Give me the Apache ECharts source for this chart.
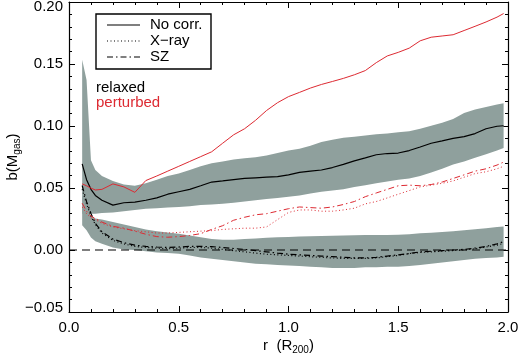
<!DOCTYPE html>
<html>
<head>
<meta charset="utf-8">
<script src="https://cdn.jsdelivr.net/npm/echarts@6/dist/echarts.min.js"></script>
<style>
  html, body { margin: 0; padding: 0; background: #fff; }
  #chart { width: 520px; height: 353px; }
</style>
</head>
<body>
<div id="chart"></div>
<script>
// r in units of R200
const radius = [0.06, 0.08, 0.10, 0.12, 0.15, 0.20, 0.25, 0.30, 0.35, 0.40,
  0.45, 0.50, 0.55, 0.60, 0.65, 0.70, 0.75, 0.80, 0.85, 0.90,
  0.95, 1.00, 1.05, 1.10, 1.15, 1.20, 1.25, 1.30, 1.35, 1.40,
  1.45, 1.50, 1.55, 1.60, 1.65, 1.70, 1.75, 1.80, 1.85, 1.90,
  1.95, 1.98];

// relaxed clusters
const relaxedNoCorr = [0.0694, 0.0567, 0.0489, 0.0440, 0.0401, 0.0362, 0.0381, 0.0386, 0.0401, 0.0420,
  0.0450, 0.0470, 0.0489, 0.0518, 0.0548, 0.0557, 0.0567, 0.0577, 0.0582, 0.0587,
  0.0592, 0.0606, 0.0626, 0.0636, 0.0645, 0.0665, 0.0690, 0.0719, 0.0743, 0.0768,
  0.0778, 0.0782, 0.0802, 0.0831, 0.0861, 0.0880, 0.0900, 0.0914, 0.0939, 0.0978,
  0.0998, 0.1002];
const relaxedXray = [0.0490, 0.0372, 0.0274, 0.0205, 0.0137, 0.0078, 0.0049, 0.0029, 0.0020, 0.0015,
  0.0010, 0.0015, 0.0020, 0.0020, 0.0015, 0.0005, -0.0005, -0.0015, -0.0025, -0.0034,
  -0.0039, -0.0044, -0.0049, -0.0054, -0.0059, -0.0064, -0.0068, -0.0068, -0.0068, -0.0064,
  -0.0054, -0.0044, -0.0029, -0.0020, -0.0015, -0.0010, -0.0005, 0.0000, 0.0010, 0.0024,
  0.0039, 0.0054];
const relaxedSZ = [0.0520, 0.0390, 0.0295, 0.0215, 0.0147, 0.0088, 0.0059, 0.0039, 0.0029, 0.0024,
  0.0020, 0.0024, 0.0029, 0.0029, 0.0027, 0.0020, 0.0012, 0.0005, -0.0005, -0.0015,
  -0.0025, -0.0034, -0.0039, -0.0044, -0.0049, -0.0054, -0.0059, -0.0064, -0.0064, -0.0059,
  -0.0049, -0.0039, -0.0029, -0.0015, -0.0010, -0.0005, 0.0000, 0.0005, 0.0015, 0.0029,
  0.0049, 0.0068];

// scatter bands of the relaxed sample
const noCorrBandTop = [0.1535, 0.1370, 0.0724, 0.0645, 0.0597, 0.0557, 0.0528, 0.0518, 0.0538, 0.0567,
  0.0597, 0.0616, 0.0645, 0.0675, 0.0699, 0.0714, 0.0729, 0.0739, 0.0748, 0.0763,
  0.0782, 0.0802, 0.0817, 0.0841, 0.0870, 0.0890, 0.0905, 0.0914, 0.0924, 0.0934,
  0.0939, 0.0949, 0.0958, 0.0978, 0.1002, 0.1027, 0.1056, 0.1105, 0.1134, 0.1154,
  0.1174, 0.1183];
const noCorrBandBottom = [0.0293, 0.0293, 0.0293, 0.0293, 0.0298, 0.0303, 0.0313, 0.0323, 0.0333, 0.0337,
  0.0342, 0.0347, 0.0352, 0.0362, 0.0367, 0.0372, 0.0381, 0.0391, 0.0401, 0.0411,
  0.0420, 0.0430, 0.0440, 0.0455, 0.0469, 0.0479, 0.0489, 0.0509, 0.0523, 0.0538,
  0.0553, 0.0567, 0.0577, 0.0597, 0.0626, 0.0655, 0.0690, 0.0714, 0.0743, 0.0773,
  0.0802, 0.0822];
const corrBandTop = [0.0440, 0.0342, 0.0274, 0.0254, 0.0245, 0.0225, 0.0205, 0.0186, 0.0166, 0.0152,
  0.0142, 0.0132, 0.0117, 0.0103, 0.0088, 0.0083, 0.0083, 0.0088, 0.0093, 0.0098,
  0.0102, 0.0105, 0.0108, 0.0110, 0.0112, 0.0115, 0.0117, 0.0118, 0.0120, 0.0120,
  0.0120, 0.0122, 0.0127, 0.0135, 0.0140, 0.0145, 0.0152, 0.0160, 0.0168, 0.0176,
  0.0185, 0.0190];
const corrBandBottom = [0.0200, 0.0160, 0.0100, 0.0070, 0.0050, 0.0020, 0.0005, 0.0000, -0.0010, -0.0020,
  -0.0025, -0.0030, -0.0045, -0.0060, -0.0070, -0.0080, -0.0090, -0.0100, -0.0110, -0.0115,
  -0.0120, -0.0125, -0.0130, -0.0135, -0.0140, -0.0145, -0.0145, -0.0145, -0.0140, -0.0140,
  -0.0135, -0.0135, -0.0130, -0.0120, -0.0110, -0.0100, -0.0090, -0.0080, -0.0070, -0.0065,
  -0.0060, -0.0055];

// perturbed clusters
const perturbedNoCorr = [0.0533, 0.0518, 0.0499, 0.0484, 0.0489, 0.0533, 0.0509, 0.0465, 0.0560, 0.0597,
  0.0636, 0.0675, 0.0714, 0.0753, 0.0792, 0.0861, 0.0929, 0.0978, 0.1046, 0.1125,
  0.1188, 0.1237, 0.1271, 0.1306, 0.1335, 0.1359, 0.1384, 0.1413, 0.1447, 0.1511,
  0.1565, 0.1594, 0.1628, 0.1687, 0.1716, 0.1726, 0.1736, 0.1770, 0.1804, 0.1839,
  0.1878, 0.1907];
const perturbedXray = [0.0347, 0.0293, 0.0259, 0.0245, 0.0215, 0.0186, 0.0171, 0.0156, 0.0147, 0.0137,
  0.0137, 0.0142, 0.0147, 0.0152, 0.0156, 0.0166, 0.0171, 0.0176, 0.0176, 0.0186,
  0.0245, 0.0303, 0.0323, 0.0323, 0.0313, 0.0313, 0.0323, 0.0337, 0.0372, 0.0391,
  0.0420, 0.0450, 0.0479, 0.0509, 0.0523, 0.0538, 0.0557, 0.0587, 0.0616, 0.0631,
  0.0655, 0.0675];
const perturbedSZ = [0.0377, 0.0313, 0.0274, 0.0254, 0.0225, 0.0191, 0.0176, 0.0152, 0.0127, 0.0108,
  0.0103, 0.0108, 0.0117, 0.0132, 0.0166, 0.0196, 0.0240, 0.0264, 0.0284, 0.0293,
  0.0313, 0.0333, 0.0347, 0.0342, 0.0337, 0.0347, 0.0367, 0.0391, 0.0430, 0.0460,
  0.0489, 0.0518, 0.0523, 0.0518, 0.0528, 0.0548, 0.0577, 0.0606, 0.0636, 0.0655,
  0.0685, 0.0709];

const zeroLineR = [0, 2];
const zeroLineB = [0, 0];

const FONT = 'Liberation Sans, Arial, Helvetica, sans-serif';
const BAND = '#8fa09d';
const RED = '#dd2a32';
const SOLID = 'solid';
const DOTTED = [1, 2.5];
const DASHDOT = [6, 3, 1.5, 3];

function lineSeries(name, values, color, type, width) {
  return {
    name: name,
    type: 'line',
    data: radius.map((r, i) => [r, values[i]]),
    symbol: 'none',
    silent: true,
    z: 3,
    lineStyle: { color: color, width: width, type: type }
  };
}

function bandSeries(name, lo, hi) {
  return {
    name: name,
    type: 'custom',
    silent: true,
    z: 1,
    data: radius.map((r, i) => [r, lo[i], hi[i]]),
    encode: { x: 0, y: [1, 2] },
    renderItem: function (params, api) {
      if (params.dataIndex !== 0) return null;
      const upper = radius.map((r, i) => api.coord([r, hi[i]]));
      const lower = radius.map((r, i) => api.coord([r, lo[i]])).reverse();
      return {
        type: 'polygon',
        shape: { points: upper.concat(lower) },
        style: { fill: BAND }
      };
    }
  };
}

function frameAxis(extra) {
  return Object.assign({
    type: 'value',
    axisLine: { show: true, onZero: false, lineStyle: { color: '#000', width: 1.2 } },
    axisTick: { show: true, inside: true, length: 6, lineStyle: { color: '#000', width: 1 } },
    minorTick: { show: true, splitNumber: 5, length: 3, lineStyle: { color: '#000', width: 1 } },
    splitLine: { show: false },
    minorSplitLine: { show: false }
  }, extra);
}

const chart = echarts.init(document.getElementById('chart'), null, { renderer: 'canvas' });

chart.setOption({
  animation: false,
  backgroundColor: '#fff',
  grid: { left: 69, right: 12, top: 2, bottom: 41, containLabel: false, outerBoundsMode: 'none' },
  xAxis: [
    frameAxis({
      min: 0, max: 2, interval: 0.5, position: 'bottom',
      axisLabel: { color: '#000', fontSize: 15, fontFamily: FONT, margin: 8,
        formatter: v => v.toFixed(1) },
      name: 'r  (R{sub|200})',
      nameLocation: 'middle',
      nameGap: 25,
      nameMoveOverlap: false,
      nameTextStyle: { color: '#000', fontSize: 15, fontFamily: FONT,
        rich: { sub: { fontSize: 10, fontFamily: FONT, color: '#000', padding: [8, 0, 0, 0] } } }
    }),
    frameAxis({
      min: 0, max: 2, interval: 0.5, position: 'top',
      axisLabel: { show: false }
    })
  ],
  yAxis: [
    frameAxis({
      min: -0.05, max: 0.2, interval: 0.05, position: 'left',
      axisLabel: {
        color: '#000', fontSize: 15, fontFamily: FONT, margin: 6,
        formatter: function (v) {
          const s = v.toFixed(2).replace('-', '\u2212');
          if (v > 0.199) return '{top|' + s + '}';
          if (v < -0.049) return '{bot|' + s + '}';
          return s;
        },
        rich: {
          top: { fontSize: 15, fontFamily: FONT, color: '#000', padding: [10, 0, 0, 0] },
          bot: { fontSize: 15, fontFamily: FONT, color: '#000', padding: [0, 0, 9, 0] }
        }
      },
      name: 'b(M{sub|gas})',
      nameLocation: 'middle',
      nameRotate: 90,
      nameGap: 47,
      nameMoveOverlap: false,
      nameTextStyle: { color: '#000', fontSize: 15, fontFamily: FONT,
        rich: { sub: { fontSize: 10, fontFamily: FONT, color: '#000', padding: [8, 0, 0, 0] } } }
    }),
    frameAxis({
      min: -0.05, max: 0.2, interval: 0.05, position: 'right',
      axisLabel: { show: false }
    })
  ],
  series: [
    bandSeries('relaxed no corr. scatter', noCorrBandBottom, noCorrBandTop),
    bandSeries('relaxed corrected scatter', corrBandBottom, corrBandTop),
    {
      name: 'zero',
      type: 'line',
      data: zeroLineR.map((r, i) => [r, zeroLineB[i]]),
      symbol: 'none',
      silent: true,
      z: 2,
      lineStyle: { color: '#000', width: 1.2, type: [8, 5] }
    },
    lineSeries('No corr. relaxed', relaxedNoCorr, '#000', SOLID, 1.2),
    lineSeries('X-ray relaxed', relaxedXray, '#000', DOTTED, 1.2),
    lineSeries('SZ relaxed', relaxedSZ, '#000', DASHDOT, 1.2),
    lineSeries('No corr. perturbed', perturbedNoCorr, RED, SOLID, 1),
    lineSeries('X-ray perturbed', perturbedXray, RED, DOTTED, 1),
    lineSeries('SZ perturbed', perturbedSZ, RED, DASHDOT, 1)
  ],
  graphic: [
    { type: 'rect', shape: { x: 96, y: 14, width: 115, height: 55 },
      style: { fill: '#fff', stroke: '#000', lineWidth: 1.4 }, z: 10 },
    { type: 'line', shape: { x1: 107, y1: 25, x2: 140, y2: 25 },
      style: { stroke: '#000', lineWidth: 1.2 }, z: 11 },
    { type: 'line', shape: { x1: 107, y1: 41, x2: 140, y2: 41 },
      style: { stroke: '#000', lineWidth: 1.2, lineDash: DOTTED }, z: 11 },
    { type: 'line', shape: { x1: 107, y1: 57, x2: 140, y2: 57 },
      style: { stroke: '#000', lineWidth: 1.2, lineDash: DASHDOT }, z: 11 },
    { type: 'text', x: 150, y: 25, z: 11,
      style: { text: 'No corr.', fill: '#000', fontSize: 15, fontFamily: FONT, verticalAlign: 'middle' } },
    { type: 'text', x: 150, y: 41, z: 11,
      style: { text: 'X\u2212ray', fill: '#000', fontSize: 15, fontFamily: FONT, verticalAlign: 'middle' } },
    { type: 'text', x: 150, y: 57, z: 11,
      style: { text: 'SZ', fill: '#000', fontSize: 15, fontFamily: FONT, verticalAlign: 'middle' } },
    { type: 'text', x: 96, y: 88, z: 11,
      style: { text: 'relaxed', fill: '#000', fontSize: 15, fontFamily: FONT, verticalAlign: 'middle' } },
    { type: 'text', x: 96, y: 103, z: 11,
      style: { text: 'perturbed', fill: RED, fontSize: 15, fontFamily: FONT, verticalAlign: 'middle' } }
  ]
});
</script>
</body>
</html>
